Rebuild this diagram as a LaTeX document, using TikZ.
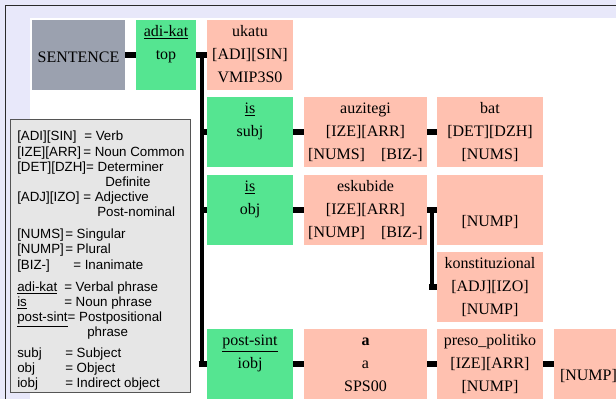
\documentclass[tikz,border=0pt]{standalone}
\usepackage{fontspec}
\setmainfont{Liberation Serif}
\setsansfont{Liberation Sans}
\usetikzlibrary{calc}
\definecolor{pagebg}{HTML}{E8E8FA}
\definecolor{framecol}{HTML}{2A2A2A}
\definecolor{rootgray}{HTML}{9BA1AF}
\definecolor{phrasegreen}{HTML}{55E591}
\definecolor{wordpink}{HTML}{FFC1B0}
\definecolor{keyfill}{HTML}{E6E6E6}
\definecolor{keyline}{HTML}{555555}
% stacked lines of a cell, set a little below the cell's centre
\newcommand\cellstack[1]{\raisebox{-1.5pt}{\begin{tabular}{@{}c@{}}#1\end{tabular}}}
\begin{document}
\begin{tikzpicture}[x=0.75pt,y=-0.75pt,
  cell/.style={inner sep=0pt, minimum height=52.5pt,
    font=\fontsize{12}{17.25}\selectfont},
  rootcell/.style={cell, fill=rootgray, minimum width=69.75pt,
    text height=13pt, text depth=1pt},
  phrasecell/.style={cell, fill=phrasegreen, minimum width=#1},
  wordcell/.style={cell, fill=wordpink, minimum width=#1},
  bar/.style={line width=4.5pt, black},
  trunk/.style={line width=3pt, black},
  keybox/.style={draw=keyline, line width=0.75pt, fill=keyfill, inner sep=0pt,
    minimum width=135pt, minimum height=204.75pt},
  keytext/.style={inner sep=0pt, align=left,
    font=\sffamily\fontsize{10}{11.4}\selectfont},
]
\newcommand\kl[2]{\makebox[#1][l]{#2}}
% page background, frame and white drawing area
\useasboundingbox (0,0) rectangle (616,399);
\fill[pagebg] (0,0) rectangle (616,399);
\fill[white] (30,18) rectangle (616,399);
\draw[framecol, line width=0.75pt] (5,399) -- (5,6) -- (616,6);

% key
\node[keybox, anchor=north west] (key) at (10,119) {};
\node[keytext, anchor=north west] (keytxt) at (17,131) {%
\kl{50.25pt}{[ADI][SIN]}= Verb\\
\kl{49.5pt}{[IZE][ARR]}= Noun Common\\
\relax[DET][DZH]= Determiner\\
\hspace*{66pt}Definite\\
\kl{49.5pt}{[ADJ][IZO]}= Adjective\\
\hspace*{60pt}Post-nominal\\[5pt]
\kl{36pt}{[NUMS]}= Singular\\
\kl{36pt}{[NUMP]}= Plural\\
\kl{42pt}{[BIZ-]}= Inanimate\\[5pt]
\kl{35.25pt}{\underline{adi-kat}}= Verbal phrase\\
\kl{35.25pt}{\underline{is}}= Noun phrase\\
\underline{post-sint}= Postpositional\\
\hspace*{52.5pt}phrase\\[4pt]
\kl{36pt}{subj}= Subject\\
\kl{36pt}{obj}= Object\\
\kl{36pt}{iobj}= Indirect object};

% tree cells
\node[rootcell] (sent) at (78.5,55) {SENTENCE};
\node[phrasecell=45pt] (adikat) at (166,55) {\cellstack{\underline{adi-kat}\\ top\\ {}}};
\node[wordcell=64.5pt] (ukatu) at (250,55) {\cellstack{ukatu\\ {[ADI][SIN]}\\ VMIP3S0}};

\node[phrasecell=64.5pt] (subj) at (250,132) {\cellstack{\underline{is}\\ subj\\ {}}};
\node[wordcell=92.25pt] (auz) at (365.5,132) {\cellstack{auzitegi\\ {[IZE][ARR]}\\ {[NUMS]\quad[BIZ-]}}};
\node[wordcell=79.5pt] (bat) at (490,132) {\cellstack{bat\\ {[DET][DZH]}\\ {[NUMS]}}};

\node[phrasecell=64.5pt] (obj) at (250,210) {\cellstack{\underline{is}\\ obj\\ {}}};
\node[wordcell=92.25pt] (esk) at (365.5,210) {\cellstack{eskubide\\ {[IZE][ARR]}\\ {[NUMP]\quad[BIZ-]}}};
\node[wordcell=79.5pt] (nump1) at (490,210) {\cellstack{{}\\ {[NUMP]}}};
\node[wordcell=79.5pt] (konst) at (490,287) {\cellstack{konstituzional\\ {[ADJ][IZO]}\\ {[NUMP]}}};

\node[phrasecell=64.5pt] (iobj) at (250,364) {\cellstack{\underline{post-sint}\\ iobj\\ {}}};
\node[wordcell=92.25pt] (abox) at (365.5,364) {\cellstack{\textbf{a}\\ a\\ SPS00}};
\node[wordcell=79.5pt] (preso) at (490,364) {\cellstack{preso\_politiko\\ {[IZE][ARR]}\\ {[NUMP]}}};
\node[wordcell=51.75pt] (nump2) at (588.5,364) {\cellstack{{}\\ {[NUMP]}}};

% connectors
\coordinate (jn) at ($(adikat.east)!0.5!(ukatu.west)$);
\coordinate (jn2) at ($(esk.east)!0.5!(nump1.west)$);
\draw[bar] (sent.east) -- (adikat.west);
\draw[bar] (adikat.east) -- (ukatu.west);
\draw[trunk] (jn) -- (jn |- iobj.west);
\draw[bar] (jn |- subj.west) -- (subj.west);
\draw[bar] (jn |- obj.west) -- (obj.west);
\draw[bar] ([xshift=-2.25pt]jn |- iobj.west) -- (iobj.west);
\draw[bar] (subj.east) -- (auz.west);
\draw[bar] (auz.east) -- (bat.west);
\draw[bar] (obj.east) -- (esk.west);
\draw[bar] (esk.east) -- (nump1.west);
\draw[trunk] (jn2) -- (jn2 |- konst.west);
\draw[bar] ([xshift=-2.25pt]jn2 |- konst.west) -- (konst.west);
\draw[bar] (iobj.east) -- (abox.west);
\draw[bar] (abox.east) -- (preso.west);
\draw[bar] (preso.east) -- (nump2.west);
\end{tikzpicture}
\end{document}
